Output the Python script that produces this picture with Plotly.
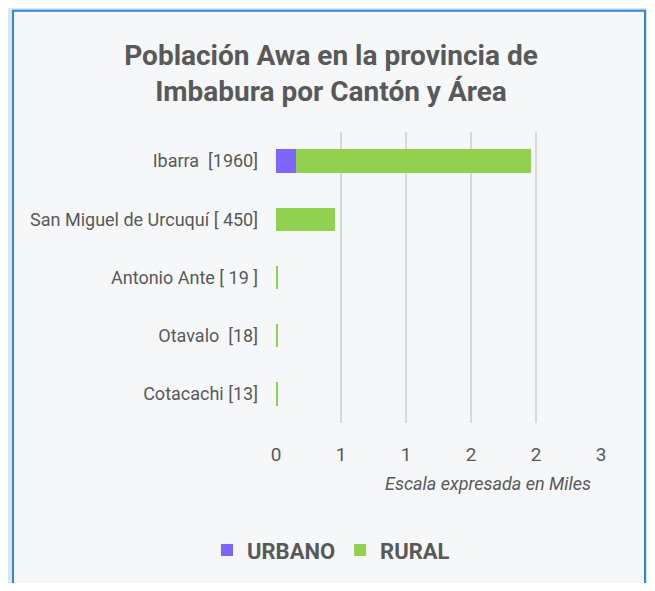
import plotly.graph_objects as go

categories = ["Ibarra  [1960]", "San Miguel de Urcuquí [ 450]", "Antonio Ante [ 19 ]", "Otavalo  [18]", "Cotacachi [13]"]
urbano = [150, 0, 0, 0, 0]
rural = [1810, 450, 19, 18, 13]
tick_vals = [0, 500, 1000, 1500, 2000, 2500]
tick_text = ["0", "1", "1", "2", "2", "3"]

FONT = "Roboto"
TXT = "#595959"

# the page body has an 8px margin; work in reference pixel coordinates
OFF = 8
W, H = 655 - 2 * OFF, 591 - 2 * OFF
L, T = 276 - OFF, 132 - OFF
R = (W + OFF) - 601
B = (H + OFF) - 425
pw, ph = W - L - R, H - T - B


def px(x):
    return (x - OFF - L) / pw


def py(y):
    return (H - B - (y - OFF)) / ph


fig = go.Figure()
fig.add_trace(go.Bar(y=categories, x=urbano, orientation="h", name="<b>URBANO</b>",
                     marker=dict(color="#7f66ff", line=dict(width=0)), width=0.4))
fig.add_trace(go.Bar(y=categories, x=rural, orientation="h", name="<b>RURAL</b>",
                     marker=dict(color="#92d050", line=dict(width=0)), width=0.4))

fig.update_layout(
    width=W, height=H,
    barmode="stack",
    margin=dict(l=L, r=R, t=T, b=B, pad=0),
    paper_bgcolor="#dde4ec",
    plot_bgcolor="rgba(0,0,0,0)",
    font=dict(family=FONT, color=TXT),
    title=dict(text="<b>Población Awa en la provincia de<br>Imbabura por Cantón y Área</b>",
               x=px(331), xref="paper", xanchor="center",
               y=1 - (65 - OFF) / H, yanchor="middle",
               font=dict(size=28, family=FONT, color=TXT)),
    xaxis=dict(range=[0, 2500], tickvals=tick_vals, ticktext=tick_text,
               showgrid=True, gridcolor="#d9d9d9", gridwidth=2,
               zeroline=False, showline=False, ticks="",
               tickfont=dict(size=19, color=TXT, family=FONT),
               ticklabelstandoff=18, fixedrange=True),
    yaxis=dict(autorange="reversed", showgrid=False, zeroline=False, showline=False,
               ticks="", tickfont=dict(size=18, color=TXT, family=FONT),
               ticklabelstandoff=17),
    showlegend=True,
    legend=dict(orientation="h", x=px(331), xanchor="center", y=py(553), yanchor="middle",
                font=dict(size=22, color=TXT, family=FONT), bgcolor="rgba(0,0,0,0)",
                itemsizing="constant", traceorder="normal"),
    shapes=[dict(type="rect", xref="paper", yref="paper", layer="below",
                 x0=px(13), x1=px(645), y0=py(10), y1=py(620),
                 fillcolor="#f6f7f9", line=dict(color="#2e88d4", width=2))],
    annotations=[dict(text="<i>Escala expresada en Miles</i>", xref="paper", yref="paper",
                      x=px(593), y=py(486), xanchor="right", yanchor="middle", showarrow=False,
                      font=dict(size=18, color=TXT, family=FONT))],
)

fig.write_html("out.html")
